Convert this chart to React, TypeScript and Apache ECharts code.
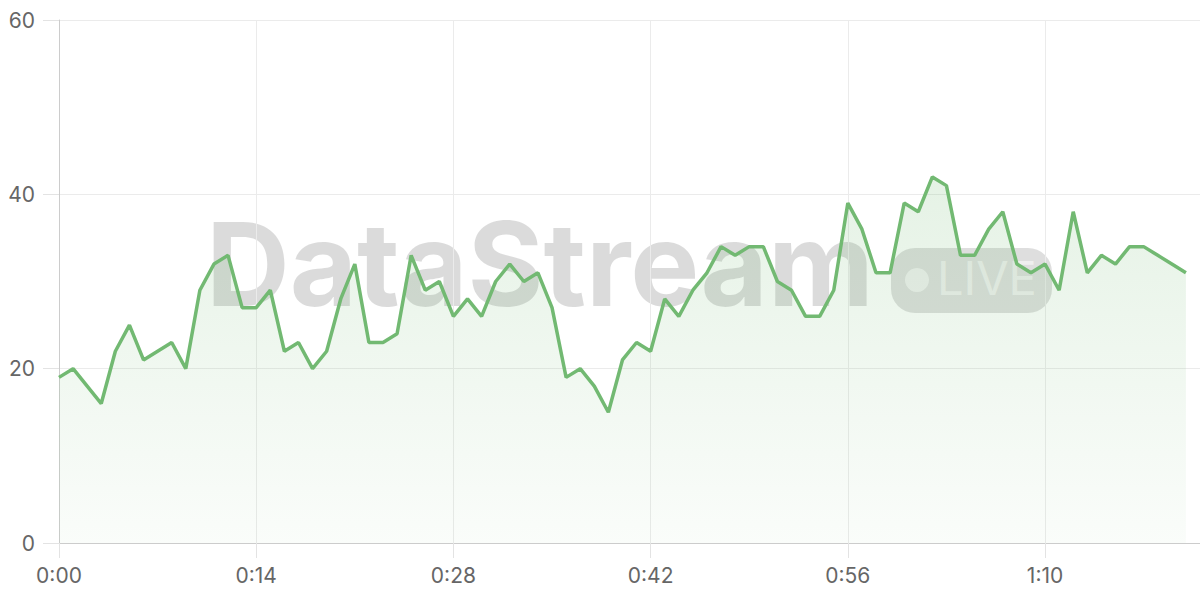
import React, { useEffect, useRef } from "react";
import * as echarts from "echarts";

const values: number[] = [
  19, 20, 18, 16, 22, 25, 21, 22, 23, 20,
  29, 32, 33, 27, 27, 29, 22, 23, 20, 22,
  28, 32, 23, 23, 24, 33, 29, 30, 26, 28,
  26, 30, 32, 30, 31, 27, 19, 20, 18, 15,
  21, 23, 22, 28, 26, 29, 31, 34, 33, 34,
  34, 30, 29, 26, 26, 29, 39, 36, 31, 31,
  39, 38, 42, 41, 33, 33, 36, 38, 32, 31,
  32, 29, 38, 31, 33, 32, 34, 34, 33, 32,
  31,
];
const seconds: number[] = values.map((_, i) => i);
const yTicks: number[] = [0, 20, 40, 60];

const fmt = (s: number) => {
  const m = Math.floor(s / 60);
  const r = s % 60;
  return `${m}:${r < 10 ? "0" + r : r}`;
};

export default function App() {
  const ref = useRef<HTMLDivElement>(null);
  useEffect(() => {
    if (!ref.current) return;
    const chart = echarts.init(ref.current, undefined, { renderer: "svg" });
    const font = "Inter, 'Noto Sans', sans-serif";
    chart.setOption({
      animation: false,
      grid: { left: 59, right: 0, top: 20, bottom: 57, outerBoundsMode: "none", containLabel: false },
      xAxis: {
        type: "value",
        min: 0,
        max: 81,
        interval: 14,
        axisLine: { show: true, lineStyle: { color: "#cccccc", width: 1 } },
        axisTick: { show: true, length: 15, lineStyle: { color: "#e3e3e3" } },
        splitLine: { show: true, lineStyle: { color: "#ebebeb", width: 1 } },
        axisLabel: {
          color: "#666666",
          fontSize: 21,
          fontFamily: font,
          margin: 22,
          showMaxLabel: false,
          formatter: (v: number) => fmt(v),
        },
      },
      yAxis: {
        type: "value",
        min: yTicks[0],
        max: yTicks[yTicks.length - 1],
        interval: 20,
        axisLine: { show: true, lineStyle: { color: "#cccccc", width: 1 } },
        axisTick: { show: true, length: 16, lineStyle: { color: "#e3e3e3" } },
        splitLine: { show: true, lineStyle: { color: "#ebebeb", width: 1 } },
        axisLabel: {
          color: "#666666",
          fontSize: 21,
          fontFamily: font,
          margin: 24,
        },
      },
      graphic: [
        {
          type: "text",
          left: 206,
          top: 206,
          z: 0,
          style: {
            text: "DataStream",
            font: "bold 116px Inter, 'Noto Sans', sans-serif",
            fill: "rgba(0,0,0,0.14)",
          },
        },
        {
          type: "rect",
          shape: { x: 891, y: 248, width: 161, height: 65, r: 24 },
          z: 0,
          style: { fill: "rgba(0,0,0,0.13)" },
        },
        {
          type: "circle",
          shape: { cx: 917, cy: 280, r: 12 },
          z: 0,
          style: { fill: "rgba(255,255,255,0.55)" },
        },
        {
          type: "text",
          left: 937,
          top: 254,
          z: 0,
          style: {
            text: "LIVE",
            font: "47px Inter, 'Noto Sans', sans-serif",
            fill: "rgba(255,255,255,0.55)",
          },
        },
      ],
      series: [
        {
          type: "line",
          data: seconds.map((s, i) => [s, values[i]]),
          showSymbol: false,
          symbol: "none",
          lineStyle: { color: "#72b972", width: 3.5 },
          itemStyle: { color: "#72b972" },
          areaStyle: {
            color: new echarts.graphic.LinearGradient(0, 0, 0, 1, [
              { offset: 0, color: "rgba(114,185,114,0.26)" },
              { offset: 1, color: "rgba(114,185,114,0.05)" },
            ]),
          },
          z: 2,
        },
      ],
    });
    return () => chart.dispose();
  }, []);
  return <div ref={ref} style={{ width: 1200, height: 600, position: "absolute", left: 0, top: 0 }} />;
}
